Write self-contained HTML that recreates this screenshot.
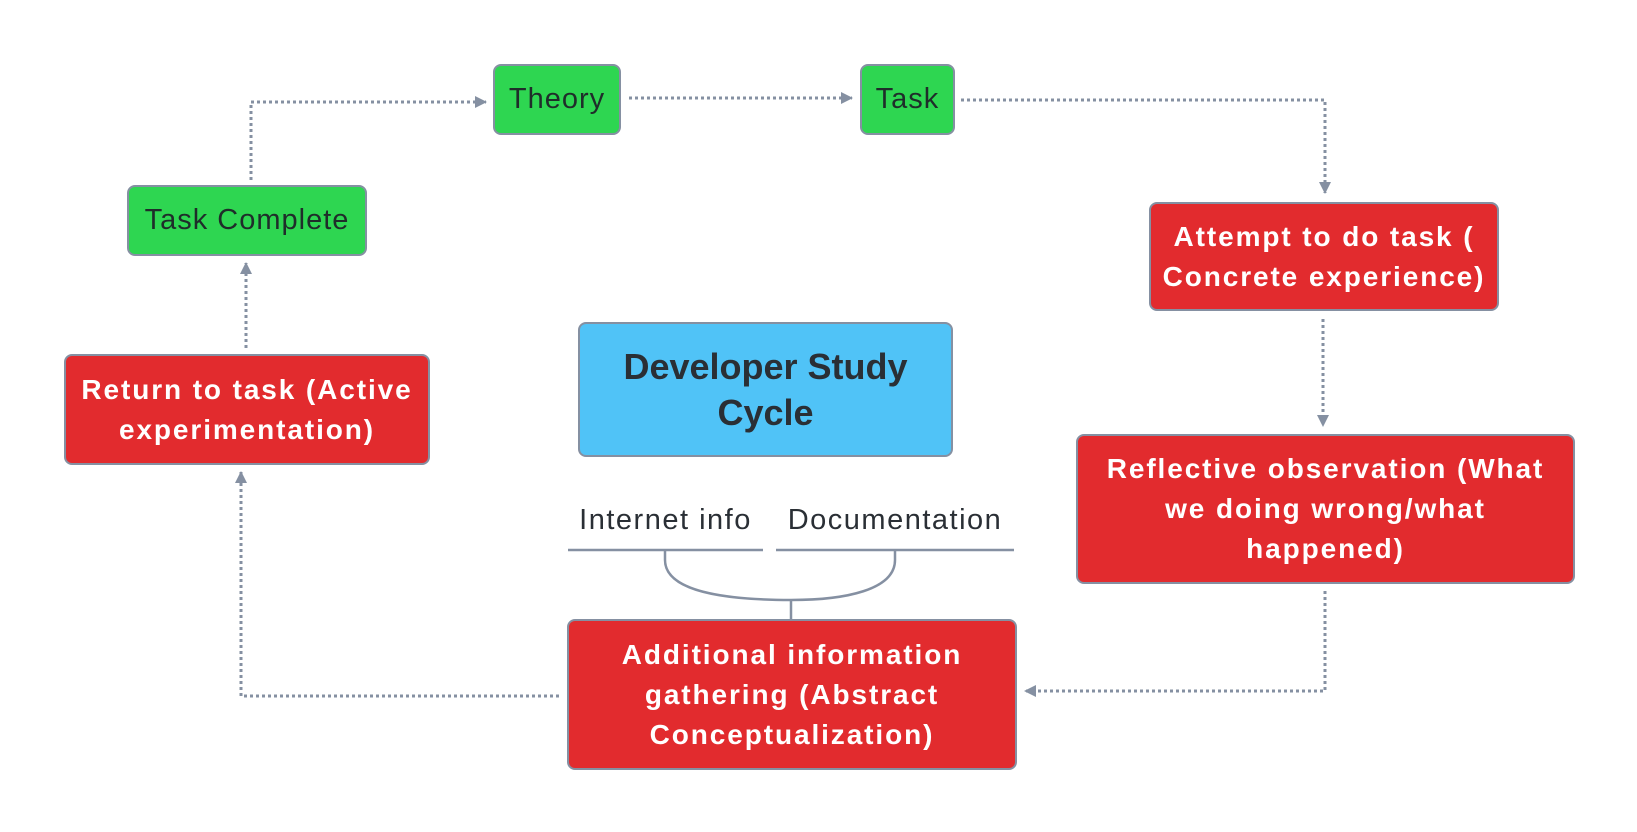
<!DOCTYPE html>
<html><head><meta charset="utf-8"><style>
body{margin:0;background:#fff;width:1637px;height:832px;position:relative;overflow:hidden;font-family:"Liberation Sans",sans-serif}
.b{position:absolute;box-sizing:border-box;border:2px solid #8590a2;border-radius:8px;display:flex;align-items:center;justify-content:center;text-align:center}
.g{background:#2ed651;color:#1f2d2a;font-size:29px;letter-spacing:1px}
.r{background:#e22b2e;color:#fff;font-weight:bold;font-size:28px;line-height:40px;letter-spacing:1.9px}
.t{position:absolute;font-size:29px;color:#2a2f35;letter-spacing:1.5px}
</style></head><body>
<svg width="1637" height="832" style="position:absolute;left:0;top:0">
<defs><marker id="a" markerWidth="12" markerHeight="12" refX="11" refY="6" orient="auto" markerUnits="userSpaceOnUse"><path d="M0,0 L12,6 L0,12z" fill="#8590a2"/></marker></defs>
<g fill="none" stroke="#8590a2" stroke-width="3" stroke-dasharray="3,3">
<path d="M251,180 V102 H486" marker-end="url(#a)"/>
<path d="M629,98 H852" marker-end="url(#a)"/>
<path d="M961,100 H1325 V193" marker-end="url(#a)"/>
<path d="M1323,319 V426" marker-end="url(#a)"/>
<path d="M1325,591 V691 H1025" marker-end="url(#a)"/>
<path d="M559,696 H241 V472" marker-end="url(#a)"/>
<path d="M246,348 V263" marker-end="url(#a)"/>
</g>
<g fill="none" stroke="#8590a2" stroke-width="2.5">
<path d="M568,550 H763 M776,550 H1014"/>
<path d="M665,550 V560 C665,595 740,600 791,600 C845,600 895,590 895,560 V550"/>
<path d="M791,600 V619"/>
</g>
</svg>
<div class="b g" style="left:493px;top:64px;width:128px;height:71px">Theory</div>
<div class="b g" style="left:860px;top:64px;width:95px;height:71px">Task</div>
<div class="b g" style="left:127px;top:185px;width:240px;height:71px">Task Complete</div>
<div class="b r" style="left:1149px;top:202px;width:350px;height:109px">Attempt to do task (<br>Concrete experience)</div>
<div class="b r" style="left:64px;top:354px;width:366px;height:111px">Return to task (Active<br>experimentation)</div>
<div class="b" style="left:578px;top:322px;width:375px;height:135px;background:#50c3f7;color:#2a2f35;font-weight:bold;font-size:36px;line-height:46px">Developer Study<br>Cycle</div>
<div class="b r" style="left:1076px;top:434px;width:499px;height:150px">Reflective observation (What<br>we doing wrong/what<br>happened)</div>
<div class="b r" style="left:567px;top:619px;width:450px;height:151px">Additional information<br>gathering (Abstract<br>Conceptualization)</div>
<div class="t" style="left:558px;top:504px;width:215px;text-align:center">Internet info</div>
<div class="t" style="left:766px;top:504px;width:258px;text-align:center">Documentation</div>
</body></html>
